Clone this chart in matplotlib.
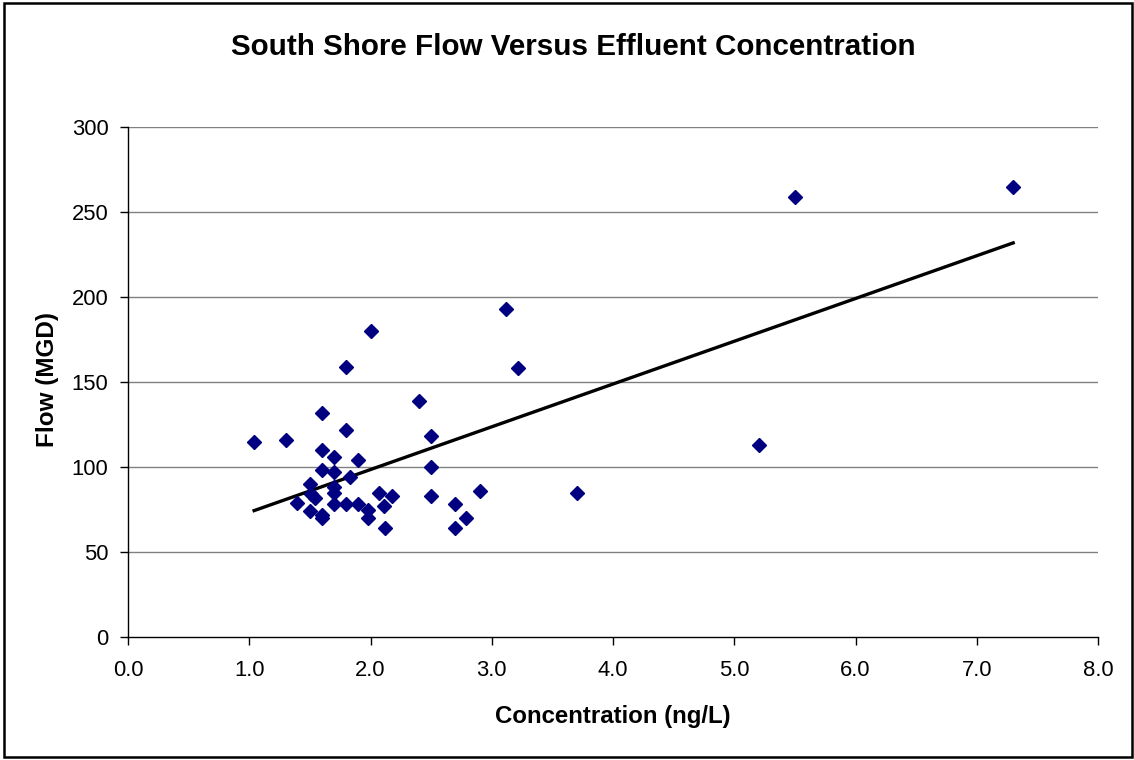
import matplotlib
matplotlib.use("Agg")
import matplotlib.pyplot as plt
from matplotlib.patches import Rectangle
import numpy as np

plt.rcParams['font.family'] = ['Liberation Sans', 'DejaVu Sans']

# Concentration (ng/L) and flow (MGD)
concentration = [1.04, 1.30, 1.39, 1.50, 1.51, 1.54, 1.50, 1.60, 1.60, 1.60, 1.60,
                 1.60, 1.70, 1.70, 1.70, 1.70, 1.70, 1.80, 1.80, 1.80, 1.83, 1.90,
                 1.90, 1.98, 1.98, 2.00, 2.07, 2.11, 2.12, 2.18, 2.40, 2.50, 2.50,
                 2.50, 2.70, 2.70, 2.79, 2.90, 3.12, 3.22, 3.70, 5.20, 5.50, 7.30]
flow = [115, 116, 79, 90, 84, 82, 74, 132, 110, 98, 72,
        70, 106, 97, 88, 85, 78, 159, 122, 78, 94, 104,
        78, 75, 70, 180, 85, 77, 64, 83, 139, 118, 100,
        83, 78, 64, 70, 86, 193, 158, 85, 113, 259, 265]

x_ticks = [0.0, 1.0, 2.0, 3.0, 4.0, 5.0, 6.0, 7.0, 8.0]
y_ticks = [0, 50, 100, 150, 200, 250, 300]

x = np.array(concentration)
y = np.array(flow)

fig = plt.figure(figsize=(11.34, 7.6), dpi=100)
ax = fig.add_axes([0.1129, 0.1618, 0.8554, 0.6711])

# linear trendline
slope, intercept = np.polyfit(x, y, 1)
xs = np.array([x.min(), x.max()])
ax.plot(xs, slope * xs + intercept, color='black', lw=2.4, zorder=3)

ax.plot(x, y, linestyle='none', marker='D', markersize=6.8,
        color='#000080', markeredgecolor='#000080', zorder=4)

ax.set_xlim(0, 8)
ax.set_ylim(0, 300)
ax.set_xticks(x_ticks)
ax.set_xticklabels([f'{t:.1f}' for t in x_ticks])
ax.set_yticks(y_ticks)

for t in y_ticks[1:]:
    ax.axhline(t, color='#808080', lw=1.0, zorder=1)

for side in ['top', 'right']:
    ax.spines[side].set_visible(False)
for side in ['left', 'bottom']:
    ax.spines[side].set_color('black')
    ax.spines[side].set_linewidth(1.0)

ax.tick_params(axis='both', direction='out', length=5.5, width=1,
               labelsize=15.8, colors='black')
ax.tick_params(axis='x', pad=11)
ax.tick_params(axis='y', pad=8.5)

ax.set_xlabel('Concentration (ng/L)', fontsize=17.3, fontweight='bold')
ax.set_ylabel('Flow (MGD)', fontsize=17.5, fontweight='bold')
ax.xaxis.label.set_va('center')
ax.yaxis.label.set_va('center')
ax.xaxis.set_label_coords(0.5, -0.155)
ax.yaxis.set_label_coords(-0.0826, 0.504)

fig.text(0.5055, 0.938, 'South Shore Flow Versus Effluent Concentration',
         ha='center', va='center', fontsize=21.3, fontweight='bold')

# border around the whole chart
fig.patches.append(Rectangle((0.0031, 0.004), 0.9947, 0.992, transform=fig.transFigure,
                             fill=False, edgecolor='black', lw=1.8))

fig.savefig('out.png', dpi=100)
